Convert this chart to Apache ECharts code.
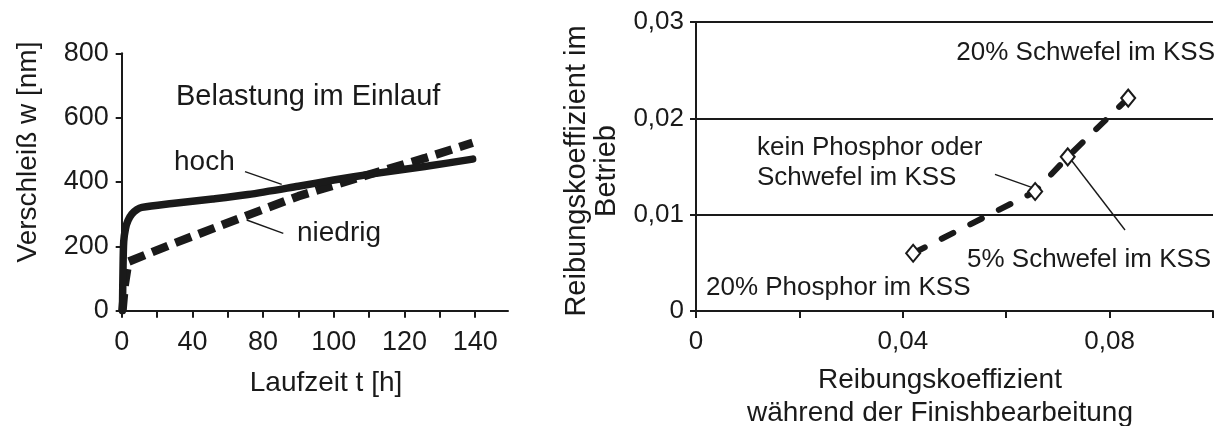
<!DOCTYPE html>
<html>
<head>
<meta charset="utf-8">
<script src="https://cdn.jsdelivr.net/npm/echarts@6/dist/echarts.min.js"></script>
<style>
html,body{margin:0;padding:0;background:#fff;}
#c{width:1227px;height:426px;}
</style>
</head>
<body>
<div id="c"></div>
<script>
// ---- Left chart data (x in linear axis units, tick every 14 units) ----
const leftTickPos = [0, 14, 28, 42, 56, 70, 84, 98, 112, 126, 140];
const leftLabelPos = [0, 28, 56, 84, 112, 140];
const leftLabelText = ['0', '40', '80', '100', '120', '140'];
const hochX = [0.3, 0.5, 0.8, 1.5, 2.5, 4, 6, 8, 20, 36, 50, 70, 84, 100, 120, 139];
const hochY = [0, 120, 215, 255, 280, 300, 314, 321, 333, 347, 361, 387, 406, 426, 448, 471];
const niedrigX = [0.3, 1.2, 2.6, 20, 50, 70, 100, 120, 139];
const niedrigY = [0, 80, 152, 207, 297, 356, 428, 474, 522];

// ---- Right chart data ----
const finishX = [0.042, 0.0656, 0.0719, 0.0836];
const betriebY = [0.006, 0.0124, 0.016, 0.0221];
const rightXLabelPos = [0, 0.04, 0.08];

const zip = (a, b) => a.map((v, i) => [v, b[i]]);
const INK = '#1a1a1a';
const FF = "'Liberation Sans', Arial, Helvetica, sans-serif";
const fmtComma = v => (Math.abs(v) < 1e-9 ? '0' : v.toFixed(2).replace('.', ','));

const chart = echarts.init(document.getElementById('c'), null, {renderer: 'canvas'});

const txt = (text, x, y, size, opts = {}) => ({
  type: 'text', x: x, y: y, rotation: opts.rotation || 0, z: 100,
  style: {
    text: text, fill: INK, font: size + 'px ' + FF,
    textAlign: opts.align || 'left', textVerticalAlign: 'middle',
    lineHeight: opts.lineHeight || size
  }
});
const lead = (x1, y1, x2, y2) => ({
  type: 'line', z: 100,
  shape: {x1: x1, y1: y1, x2: x2, y2: y2},
  style: {stroke: INK, lineWidth: 1.4}
});

const option = {
  animation: false,
  backgroundColor: '#fff',
  textStyle: {fontFamily: FF, color: INK},
  grid: [
    {left: 121.7, top: 53.3, width: 386.3, height: 257.4, containLabel: false, outerBoundsMode: 'none'},
    {left: 696, top: 22, width: 517, height: 289, containLabel: false, outerBoundsMode: 'none'}
  ],
  xAxis: [
    {
      type: 'value', gridIndex: 0, min: 0, max: 153, interval: 14,
      axisLine: {show: true, onZero: false, lineStyle: {color: INK, width: 2}},
      axisTick: {show: true, inside: false, length: 7, customValues: leftTickPos, lineStyle: {color: INK, width: 2}},
      axisLabel: {
        show: true, customValues: leftLabelPos, margin: 18, fontSize: 27, color: INK, fontFamily: FF,
        formatter: v => { const i = leftLabelPos.indexOf(Math.round(v)); return i >= 0 ? leftLabelText[i] : ''; }
      },
      splitLine: {show: false}
    },
    {
      type: 'value', gridIndex: 1, min: 0, max: 0.1, interval: 0.02,
      axisLine: {show: true, onZero: false, lineStyle: {color: INK, width: 2}},
      axisTick: {show: true, inside: false, length: 7, lineStyle: {color: INK, width: 2}},
      axisLabel: {
        show: true, customValues: rightXLabelPos, margin: 18, fontSize: 26, color: INK, fontFamily: FF,
        formatter: fmtComma
      },
      splitLine: {show: false}
    }
  ],
  yAxis: [
    {
      type: 'value', gridIndex: 0, min: 0, max: 800, interval: 200,
      axisLine: {show: true, onZero: false, lineStyle: {color: INK, width: 2}},
      axisTick: {show: true, inside: false, length: 6, lineStyle: {color: INK, width: 2}},
      axisLabel: {show: true, margin: 13, fontSize: 27, color: INK, fontFamily: FF},
      splitLine: {show: false}
    },
    {
      type: 'value', gridIndex: 1, min: 0, max: 0.03, interval: 0.01,
      axisLine: {show: true, onZero: false, lineStyle: {color: INK, width: 2}},
      axisTick: {show: true, inside: false, length: 6, lineStyle: {color: INK, width: 2}},
      axisLabel: {show: true, margin: 12, fontSize: 26, color: INK, fontFamily: FF, formatter: fmtComma},
      splitLine: {show: true, lineStyle: {color: INK, width: 2}}
    }
  ],
  series: [
    {
      name: 'niedrig', type: 'line', xAxisIndex: 0, yAxisIndex: 0,
      data: zip(niedrigX, niedrigY), showSymbol: false, symbol: 'none', smooth: false,
      lineStyle: {color: INK, width: 8.5, type: [17, 8], cap: 'butt'}, z: 2
    },
    {
      name: 'hoch', type: 'line', xAxisIndex: 0, yAxisIndex: 0,
      data: zip(hochX, hochY), showSymbol: false, symbol: 'none', smooth: 0.3,
      lineStyle: {color: INK, width: 7.5, cap: 'round', join: 'round'}, z: 3
    },
    {
      name: 'KSS', type: 'line', xAxisIndex: 1, yAxisIndex: 1,
      data: zip(finishX, betriebY), symbol: 'diamond', symbolSize: [14, 17], showSymbol: true,
      lineStyle: {color: INK, width: 6, type: [13, 19], cap: 'round'},
      itemStyle: {color: '#fff', borderColor: INK, borderWidth: 2}, z: 3
    }
  ],
  graphic: [
    // left chart texts
    txt('Verschleiß w [nm]', 28, 152, 28, {rotation: Math.PI / 2, align: 'center'}),
    txt('Laufzeit t [h]', 326, 383, 28, {align: 'center'}),
    txt('Belastung im Einlauf', 176, 97, 29),
    txt('hoch', 174, 162, 28),
    txt('niedrig', 297, 233, 28),
    lead(245, 171.7, 281.7, 184.3),
    lead(246.7, 220, 283.3, 233.3),
    // right chart texts
    txt('Reibungskoeffizient im\nBetrieb', 592, 171, 29, {rotation: Math.PI / 2, align: 'center', lineHeight: 30}),
    txt('Reibungskoeffizient\nwährend der Finishbearbeitung', 940, 396.5, 28, {align: 'center', lineHeight: 33}),
    txt('20% Schwefel im KSS', 1215, 53.3, 26, {align: 'right'}),
    txt('kein Phosphor oder\nSchwefel im KSS', 757, 163.3, 26, {lineHeight: 30}),
    txt('5% Schwefel im KSS', 967, 260, 26),
    txt('20% Phosphor im KSS', 706, 288.3, 26),
    lead(995, 174.3, 1031.7, 187.3),
    lead(1072, 161, 1125, 230)
  ]
};
chart.setOption(option);
</script>
</body>
</html>
